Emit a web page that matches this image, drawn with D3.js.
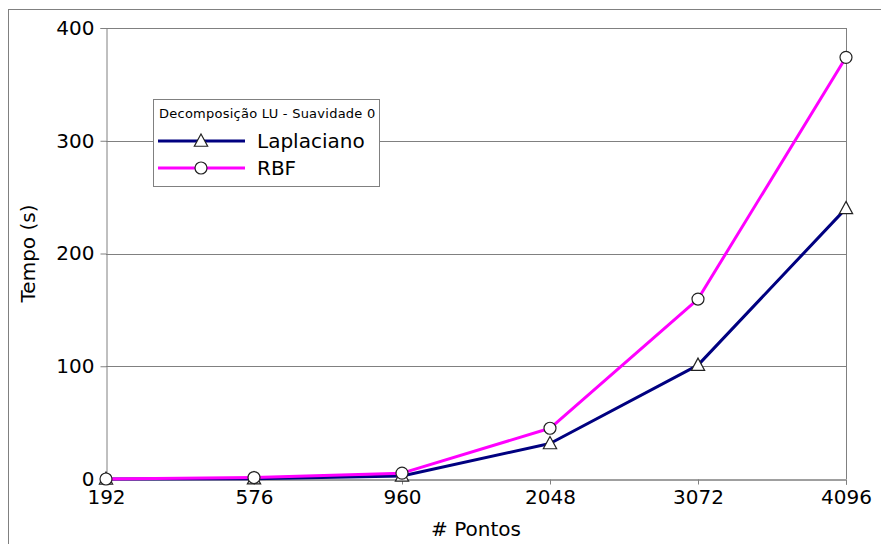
<!DOCTYPE html>
<html>
<head>
<meta charset="utf-8">
<script src="https://cdn.jsdelivr.net/npm/d3@7"></script>
<style>
  html, body { margin: 0; padding: 0; background: #fff; }
  svg { display: block; font-family: "DejaVu Sans", sans-serif; }
</style>
</head>
<body>
<svg id="chart" width="881" height="544"></svg>
<script>
// Number of points (categories on the x axis)
const pontos = ["192", "576", "960", "2048", "3072", "4096"];
// Time in seconds for each method
const laplaciano = [0, 0.3, 2.7, 31.5, 101, 240];
const rbf = [0, 1.3, 5.2, 45, 159.6, 374];
const yTicks = [0, 100, 200, 300, 400];
const legendTitle = "Decomposição LU - Suavidade 0";

const series = [
  { name: "Laplaciano", values: laplaciano, color: "#000080", marker: "triangle" },
  { name: "RBF", values: rbf, color: "#ff00ff", marker: "circle" }
];

const svg = d3.select("#chart");
const W = 881, H = 544;
const m = { left: 106, top: 28, right: W - 846, bottom: H - 479 };

// outer frame
svg.append("rect").attr("x", 8.5).attr("y", 9.5).attr("width", W).attr("height", H)
  .attr("fill", "none").attr("stroke", "#808080").attr("stroke-width", 1);

const x = d3.scalePoint().domain(pontos).range([m.left, W - m.right]).padding(0);
const y = d3.scaleLinear().domain([0, 400]).range([H - m.bottom, m.top]);

// horizontal gridlines
svg.append("g").selectAll("line").data(yTicks.filter(d => d > 0)).join("line")
  .attr("x1", m.left).attr("x2", W - m.right)
  .attr("y1", d => Math.round(y(d)) + 0.5).attr("y2", d => Math.round(y(d)) + 0.5)
  .attr("stroke", "#808080").attr("stroke-width", 1);

// right border of plot area
svg.append("line").attr("x1", W - m.right + 0.5).attr("x2", W - m.right + 0.5)
  .attr("y1", m.top).attr("y2", H - m.bottom)
  .attr("stroke", "#808080");

// y axis
const yAxis = svg.append("g").attr("transform", `translate(${m.left + 0.5},0)`)
  .call(d3.axisLeft(y).tickValues(yTicks).tickSize(6).tickPadding(6));
yAxis.select(".domain").attr("stroke", "#808080");
yAxis.selectAll(".tick line").attr("stroke", "#808080");
yAxis.selectAll("text").attr("font-size", 20).attr("fill", "#000")
  .attr("font-family", "DejaVu Sans");

// x axis
const xAxis = svg.append("g").attr("transform", `translate(0,${H - m.bottom + 0.5})`)
  .call(d3.axisBottom(x).tickSize(5).tickPadding(5));
xAxis.select(".domain").attr("stroke", "#404040");
xAxis.selectAll(".tick line").attr("stroke", "#808080");
xAxis.selectAll("text").attr("font-size", 20).attr("fill", "#000")
  .attr("font-family", "DejaVu Sans");

// axis titles
svg.append("text").attr("x", (m.left + W - m.right) / 2).attr("y", 536)
  .attr("text-anchor", "middle").attr("font-size", 20).text("# Pontos");
svg.append("text").attr("transform", `translate(35,${(m.top + H - m.bottom) / 2}) rotate(-90)`)
  .attr("text-anchor", "middle").attr("font-size", 20).text("Tempo (s)");

const line = d3.line().x((d, i) => x(pontos[i])).y(d => y(d));

function drawMarker(g, type, cx, cy) {
  if (type === "circle") {
    g.append("circle").attr("cx", cx).attr("cy", cy).attr("r", 6)
      .attr("fill", "#fff").attr("stroke", "#222").attr("stroke-width", 1.2);
  } else {
    const s = 7;
    g.append("path")
      .attr("d", `M${cx},${cy - s}L${cx + s * 0.95},${cy + s * 0.75}L${cx - s * 0.95},${cy + s * 0.75}Z`)
      .attr("fill", "#fff").attr("stroke", "#222").attr("stroke-width", 1.2);
  }
}

// lines first, then markers on top
series.forEach(s => {
  svg.append("path").datum(s.values).attr("d", line)
    .attr("fill", "none").attr("stroke", s.color).attr("stroke-width", 3)
    .attr("stroke-linejoin", "round");
});
series.forEach(s => {
  const g = svg.append("g");
  s.values.forEach((v, i) => drawMarker(g, s.marker, x(pontos[i]), y(v)));
});

// legend
const lg = svg.append("g");
lg.append("rect").attr("x", 153.5).attr("y", 99.5).attr("width", 226).attr("height", 87)
  .attr("fill", "#fff").attr("stroke", "#808080");
lg.append("text").attr("x", 159).attr("y", 118).attr("font-size", 13)
  .attr("letter-spacing", 0.25).text(legendTitle);
series.forEach((s, i) => {
  const ly = 141 + i * 27;
  lg.append("line").attr("x1", 158).attr("x2", 245).attr("y1", ly).attr("y2", ly)
    .attr("stroke", s.color).attr("stroke-width", 3);
  drawMarker(lg, s.marker, 201, ly);
  lg.append("text").attr("x", 257).attr("y", ly + 7).attr("font-size", 20).text(s.name);
});
</script>
</body>
</html>
